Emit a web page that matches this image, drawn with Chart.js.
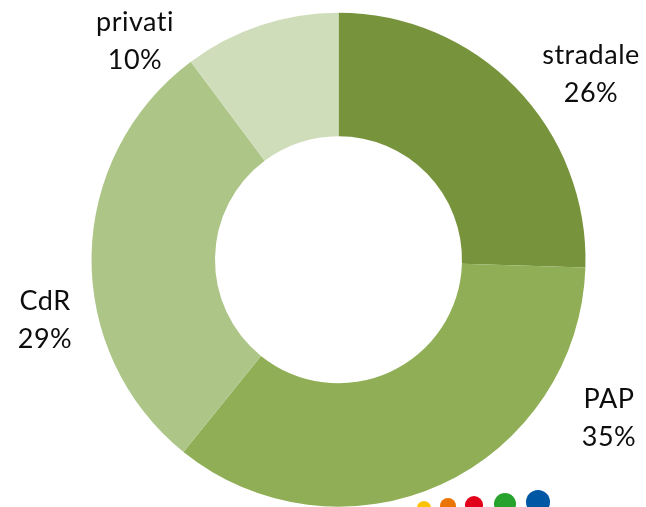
<!DOCTYPE html>
<html>
<head>
<meta charset="utf-8">
<script src="https://cdn.jsdelivr.net/npm/chart.js@4.4.0/dist/chart.umd.min.js"></script>
<style>
  html, body { margin: 0; padding: 0; background: #ffffff; }
  #wrap { width: 646px; height: 507px; position: relative; }
</style>
</head>
<body>
<div id="wrap"><canvas id="pie" width="646" height="507"></canvas></div>
<script>
// Chart data
const categories = ['stradale', 'PAP', 'CdR', 'privati'];
const shares = [25.5, 35.3, 29.0, 10.2];
const sliceColors = ['#77933c', '#8fae55', '#adc688', '#d0ddbb'];

// where each label block sits (centre of the two lines), in canvas pixels
const labelSpots = [[591, 74], [609, 418], [45, 320], [135, 41]];

// Draws the "name / xx%" labels outside the ring
const outsideLabels = {
    id: 'outsideLabels',
    afterDraw(chart) {
        const ctx = chart.ctx;
        const data = chart.data.datasets[0].data;
        const total = data.reduce((a, b) => a + b, 0);
        ctx.save();
        ctx.fillStyle = '#0d0d0d';
        ctx.font = '27px Lato, "Liberation Sans", sans-serif';
        ctx.letterSpacing = '0.5px'; // also stops the "ti" ligature
        ctx.textAlign = 'center';
        ctx.textBaseline = 'middle';
        chart.data.labels.forEach((name, i) => {
            const [x, y] = labelSpots[i];
            const pct = Math.round(data[i] / total * 100) + '%';
            ctx.fillText(name, x, y - 19);
            ctx.fillText(pct, x, y + 19);
        });
        ctx.restore();
    }
};

// Small coloured dots of the logo peeking in at the bottom edge
const logoDots = {
    id: 'logoDots',
    afterDraw(chart) {
        const ctx = chart.ctx;
        const dots = [
            [424, 508, 7, '#fdc300'],
            [448, 506, 8, '#ec7404'],
            [474, 505, 9, '#e2001a'],
            [505, 504, 11, '#27a22d'],
            [538, 502, 12, '#0057a4']
        ];
        ctx.save();
        dots.forEach(d => {
            ctx.beginPath();
            ctx.arc(d[0], d[1], d[2], 0, Math.PI * 2);
            ctx.fillStyle = d[3];
            ctx.fill();
        });
        ctx.restore();
    }
};

const ctx = document.getElementById('pie').getContext('2d');
const pieChart = new Chart(ctx, {
    type: 'doughnut',
    data: {
        labels: categories,
        datasets: [{
            data: shares,
            backgroundColor: sliceColors,
            borderWidth: 0
        }]
    },
    options: {
        responsive: false,
        animation: false,
        cutout: '50%',
        layout: {
            padding: { left: 91.5, right: 60.5, top: 12.5, bottom: 0 }
        },
        plugins: {
            legend: { display: false },
            tooltip: { enabled: false }
        }
    },
    plugins: [outsideLabels, logoDots]
});
</script>
</body>
</html>
